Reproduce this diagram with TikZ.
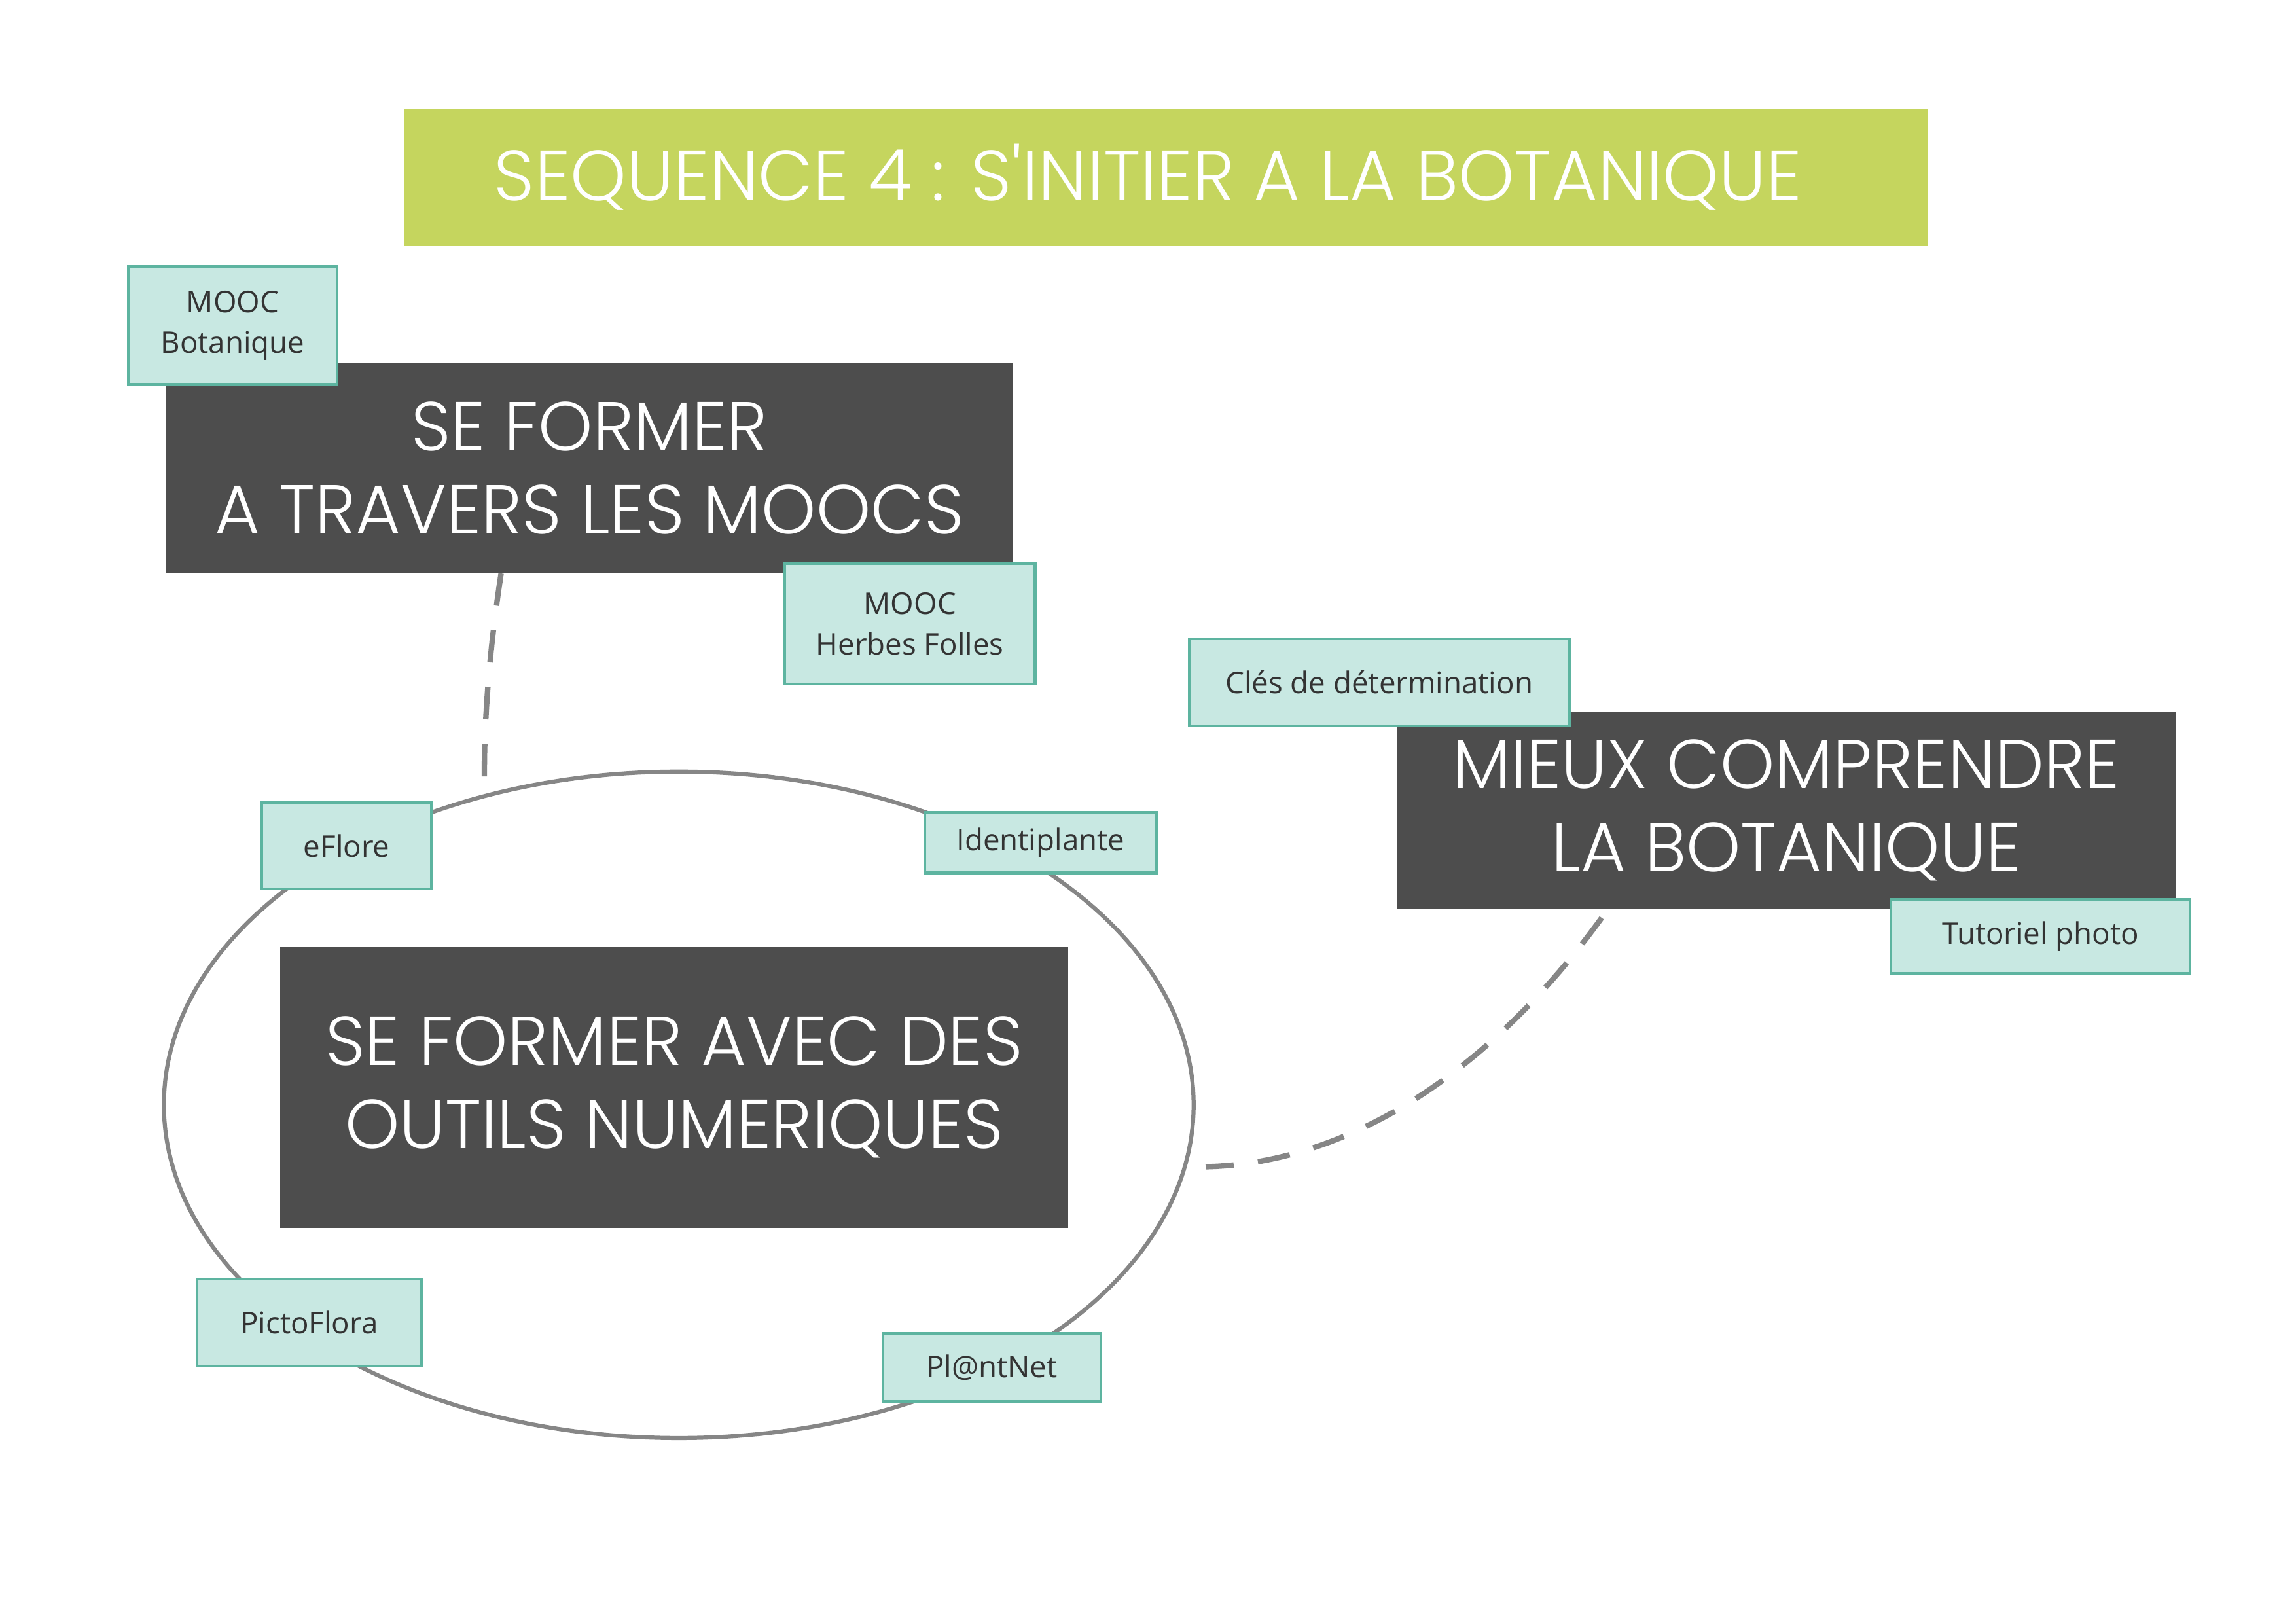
\documentclass[tikz,border=0pt]{standalone}
\usepackage{fontspec}
\setmainfont{Open Sans}
\IfFontExistsTF{Poppins Light}{\newfontfamily\headfont{Poppins Light}}{\newfontfamily\headfont{Poppins}}
\usetikzlibrary{shapes.geometric}
\definecolor{titlegreen}{HTML}{C5D55E}
\definecolor{darkbox}{HTML}{4D4D4D}
\definecolor{mint}{HTML}{C8E8E2}
\definecolor{mintline}{HTML}{5DB4A0}
\definecolor{tagtext}{HTML}{333333}
\definecolor{linegray}{HTML}{868686}
\tikzset{
  heading/.style={fill=darkbox, text=white, align=center, inner sep=0pt,
    font=\headfont\fontsize{25.5}{30.5}\selectfont},
  banner/.style={heading, fill=titlegreen, font=\headfont\fontsize{26.2}{30.5}\selectfont},
  tag/.style={fill=mint, draw=mintline, line width=1pt, text=tagtext, align=center,
    inner sep=0pt, font=\fontsize{11}{15}\selectfont},
  link/.style={draw=linegray, line width=2pt, dash pattern=on 12pt off 9pt},
}

\begin{document}
\begin{tikzpicture}
\useasboundingbox (0,0) rectangle (29.7,21);
\node[banner, minimum width=19.72cm, minimum height=1.77cm] (title) at (15.08,18.705) {SEQUENCE 4 : S'INITIER A LA BOTANIQUE\hspace*{0.46cm}};
\node[ellipse, draw=linegray, line width=1.5pt, minimum width=13.32cm, minimum height=8.62cm, inner sep=0pt] (ring) at (8.78,6.71) {};
\node[heading, minimum width=10.95cm, minimum height=2.71cm] (moocs) at (7.625,14.945) {SE FORMER\\A TRAVERS LES MOOCS};
\node[heading, minimum width=10.07cm, minimum height=2.54cm] (mieux) at (23.105,10.52) {MIEUX COMPRENDRE\\LA BOTANIQUE};
\node[heading, minimum width=10.2cm, minimum height=3.64cm] (outils) at (8.72,6.94) {SE FORMER AVEC DES\\OUTILS NUMERIQUES};
\draw[link] (moocs.230) .. controls +(-0.17,-1.11) and +(-0.02,0.76) .. (ring.122.5);
\draw[link, shorten <=4pt, shorten >=7pt] (mieux.209.4) .. controls +(-1.43,-1.98) and +(2.2,0.05) .. (ring.-7);
\node[tag, minimum width=2.7cm, minimum height=1.52cm] (botanique) at (3.01,16.79) {MOOC\\Botanique};
\node[tag, minimum width=3.24cm, minimum height=1.56cm] (herbes) at (11.77,12.93) {MOOC\\Herbes Folles};
\node[tag, minimum width=4.92cm, minimum height=1.13cm] (cles) at (17.84,12.175) {Clés de détermination};
\node[tag, minimum width=3.87cm, minimum height=0.96cm] (tutoriel) at (26.395,8.89) {Tutoriel photo};
\node[tag, minimum width=2.19cm, minimum height=1.12cm] (eflore) at (4.485,10.06) {eFlore};
\node[tag, minimum width=3cm, minimum height=0.78cm] (identi) at (13.46,10.1) {Identiplante};
\node[tag, minimum width=2.9cm, minimum height=1.13cm] (picto) at (4,3.895) {PictoFlora};
\node[tag, minimum width=2.82cm, minimum height=0.88cm] (plantnet) at (12.83,3.31) {Pl@ntNet};
\end{tikzpicture}
\end{document}
